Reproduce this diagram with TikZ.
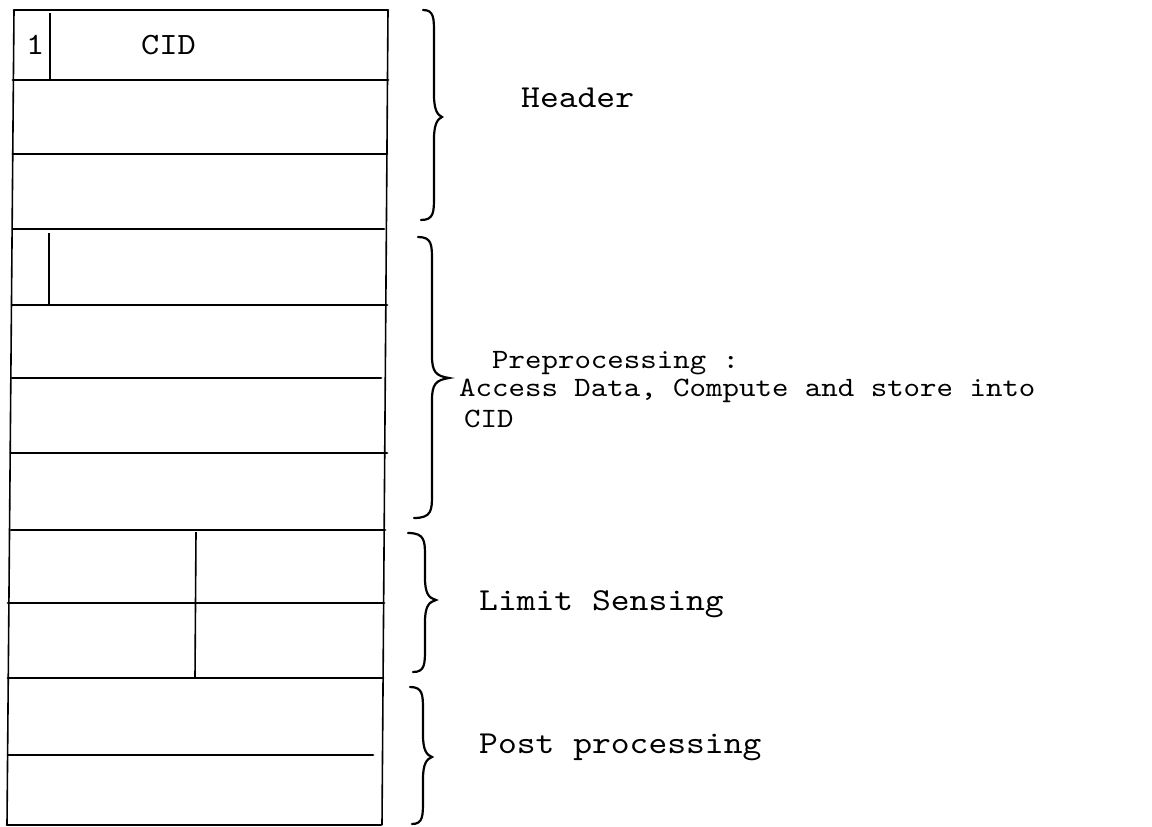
\documentclass[tikz,border=0pt]{standalone}
\usepackage{fontspec}
\setmonofont{lmmono10-regular.otf}[FakeStretch=1.12]
\newcommand{\mybrace}[7]{%
  \draw[bracestyle] (#1,#2) .. controls (#3,#2) and (#3,#2+8) .. (#3,#2+24)
    -- (#3,#5-22) .. controls (#3,#5-6) and (#3+4,#5-2) .. (#4,#5)
    .. controls (#3+4,#5+2) and (#3,#5+6) .. (#3,#5+22)
    -- (#3,#6-24) .. controls (#3,#6-8) and (#3,#6) .. (#7,#6);}
\begin{document}
\begin{tikzpicture}[x=1pt,y=-1pt,
  hline/.style={line width=2.7pt,line cap=round},
  vline/.style={line width=1.6pt},
  bracestyle/.style={line width=2.2pt,line cap=round},
  lbl/.style={inner sep=0pt,anchor=base west,font=\ttfamily\fontsize{32}{36}\selectfont},
  smalllbl/.style={inner sep=0pt,anchor=base west,font=\ttfamily\fontsize{28}{30}\selectfont},
  celllbl/.style={inner sep=0pt,anchor=base west,font=\ttfamily\fontsize{31}{34}\selectfont}]
\useasboundingbox (0,0) rectangle (1152,827);
\fill[white] (0,0) rectangle (1152,827);
% outer vertical edges
\draw[vline] (14,10) -- (7,825);
\draw[vline] (388,10) -- (382,825);
% horizontal rules
\draw[hline] (14,10) -- (388,10);
\draw[hline] (13,80) -- (388,80);
\draw[hline] (13,154) -- (387,154);
\draw[hline] (13,229) -- (384,229);
\draw[hline] (12,305) -- (387,305);
\draw[hline] (12,378) -- (381,378);
\draw[hline] (11,453) -- (387,453);
\draw[hline] (11,530) -- (385,530);
\draw[hline] (8,603) -- (384,603);
\draw[hline] (8,678) -- (383,678);
\draw[hline] (8,755) -- (373,755);
\draw[hline] (7,825) -- (381,825);
% inner dividers
\draw[vline] (50,13) -- (50,80);
\draw[vline] (49,233) -- (49,305);
\draw[vline] (196,532) -- (195,678);
% cell texts
\node[celllbl] (one) at (26,54) {1};
\node[celllbl] (cid) at (141,54) {CID};
% braces
\mybrace{423}{10}{434}{442}{117}{220}{421}
\mybrace{418}{237}{432}{449}{378}{518}{414}
\mybrace{408}{533}{425}{436}{600}{672}{413}
\mybrace{410}{687}{423}{432}{757}{824}{412}
% labels
\node[lbl] (header) at (521,107) {Header};
\node[smalllbl] (pre1) at (492,368) {Preprocessing :};
\node[smalllbl] (pre2) at (459,396) {Access Data, Compute and store into};
\node[smalllbl] (pre3) at (464,427) {CID};
\node[lbl] (limit) at (479,610) {Limit Sensing};
\node[lbl] (post) at (479,753) {Post processing};
\end{tikzpicture}
\end{document}
